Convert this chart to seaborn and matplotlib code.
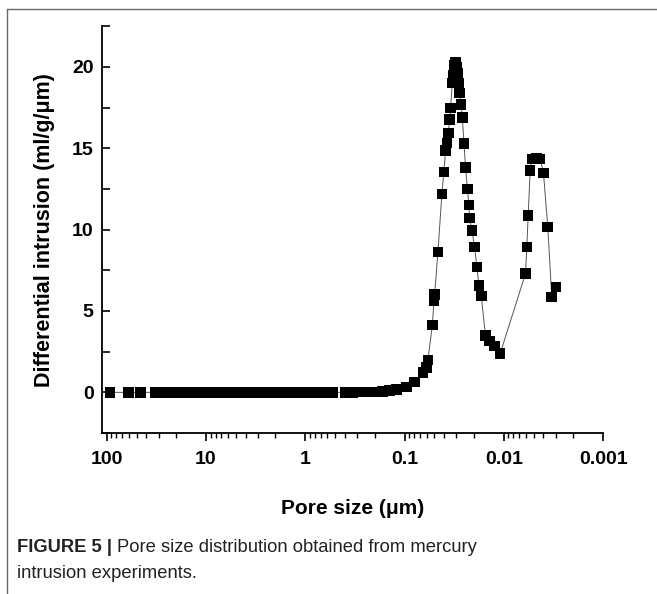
import matplotlib
matplotlib.use("Agg")
import matplotlib.pyplot as plt
from matplotlib.lines import Line2D
from matplotlib.ticker import FixedLocator, LogLocator, NullFormatter
import seaborn as sns
import pandas as pd

# pore size (um), in order of intrusion (large -> small)
pore_size = [92.7, 60.7, 45.5, 32.1, 26.6, 21.9, 17.9, 14.6, 12.0, 10.7,
             8.79, 6.97, 5.66, 4.64, 3.70, 3.05, 2.40, 1.95, 1.52, 1.25,
             0.99, 0.80, 0.64, 0.525, 0.40, 0.33, 0.262, 0.208, 0.167, 0.141,
             0.121, 0.096, 0.0791, 0.0653, 0.0604, 0.0582, 0.0525, 0.0506, 0.0498, 0.0461,
             0.0421, 0.0402, 0.0386, 0.0374, 0.0363, 0.0352, 0.0344, 0.0331, 0.0326, 0.0318,
             0.0308, 0.0301, 0.0294, 0.0286, 0.0279, 0.0269, 0.0262, 0.0252, 0.0243, 0.0233,
             0.0225, 0.0221, 0.0210, 0.0197, 0.0187, 0.0178, 0.0169, 0.0153, 0.0139, 0.0124,
             0.0109, 0.00605, 0.00587, 0.00569, 0.00543, 0.00523, 0.00472, 0.00431, 0.00399, 0.00361,
             0.00329, 0.00297]
# differential intrusion (ml/g/um)
diff_intrusion = [0, 0, 0, 0, 0, 0, 0, 0, 0, 0,
                  0, 0, 0, 0, 0, 0, 0, 0, 0, 0,
                  0, 0, 0, 0, 0, 0, 0.01, 0.02, 0.04, 0.1,
                  0.18, 0.33, 0.63, 1.21, 1.52, 1.98, 4.13, 5.60, 6.01, 8.63,
                  12.19, 13.54, 14.85, 15.32, 15.93, 16.75, 17.47, 19.0, 19.5, 20.1,
                  20.3, 20.0, 19.6, 19.0, 18.4, 17.7, 16.9, 15.3, 13.8, 12.5,
                  11.5, 10.7, 9.96, 8.94, 7.69, 6.56, 5.91, 3.50, 3.15, 2.84,
                  2.37, 7.30, 8.92, 10.86, 13.64, 14.34, 14.40, 14.34, 13.48, 10.17,
                  5.85, 6.46]

x_ticks = [100, 10, 1, 0.1, 0.01, 0.001]
x_labels = ["100", "10", "1", "0.1", "0.01", "0.001"]
y_ticks = [0, 5, 10, 15, 20]

df = pd.DataFrame({"size": pore_size, "dv": diff_intrusion})

sns.set_style("ticks")
plt.rcParams['font.family'] = ['Liberation Sans', 'DejaVu Sans']
plt.rcParams.update({"text.color": "black", "axes.labelcolor": "black",
                     "xtick.color": "black", "ytick.color": "black",
                     "axes.edgecolor": "black"})

fig = plt.figure(figsize=(6.57, 5.94), dpi=100)
ax = fig.add_axes([0.155, 0.271, 0.763, 0.685])

sns.lineplot(data=df, x="size", y="dv", sort=False, color="#555555",
             linewidth=0.7, ax=ax, estimator=None)
sns.scatterplot(data=df, x="size", y="dv", marker="s", s=58, color="black",
                edgecolor="none", ax=ax, zorder=3)

ax.set_xscale("log")
ax.set_xlim(112, 0.001)
ax.set_ylim(-2.5, 22.5)

ax.xaxis.set_major_locator(FixedLocator(x_ticks))
ax.set_xticks(x_ticks)
ax.set_xticklabels(x_labels)
ax.xaxis.set_minor_locator(LogLocator(base=10, subs=range(2, 10), numticks=20))
ax.xaxis.set_minor_formatter(NullFormatter())
ax.set_yticks(y_ticks)
ax.set_yticks([-2.5, 2.5, 7.5, 12.5, 17.5, 22.5], minor=True)

ax.tick_params(axis="x", which="major", direction="out", length=6, width=1.2,
               pad=7, labelsize=14)
ax.tick_params(axis="x", which="minor", direction="out", length=3.5, width=1.0)
ax.tick_params(axis="y", which="both", direction="in", length=6, width=1.2,
               pad=6, labelsize=14)
for lab in ax.get_xticklabels() + ax.get_yticklabels():
    lab.set_fontweight("bold")

for side in ["top", "right"]:
    ax.spines[side].set_visible(False)
for side in ["left", "bottom"]:
    ax.spines[side].set_linewidth(1.3)

ax.set_xlabel("Pore size (\u03bcm)", fontsize=15, fontweight="bold", labelpad=22)
ax.set_ylabel("Differential intrusion (ml/g/\u03bcm)", fontsize=15.5,
              fontweight="bold", labelpad=12)

# page frame and caption
fig.add_artist(Line2D([7 / 657, 1.0], [1 - 9 / 594, 1 - 9 / 594], color="#666666", lw=1.0))
fig.add_artist(Line2D([7 / 657, 7 / 657], [0, 1 - 9 / 594], color="#666666", lw=1.0))

cap_size = 13.2
cap_color = "#222222"
t1 = fig.text(17 / 657, 1 - 548 / 594, "FIGURE 5 |", fontsize=cap_size, fontweight="bold",
              va="center", ha="left", color=cap_color)
fig.canvas.draw()
bb = t1.get_window_extent()
fig.text((bb.x1 + 5) / 657, 1 - 548 / 594, "Pore size distribution obtained from mercury",
         fontsize=cap_size, va="center", ha="left", color=cap_color)
fig.text(17 / 657, 1 - 574 / 594, "intrusion experiments.", fontsize=cap_size,
         va="center", ha="left", color=cap_color)

fig.savefig("out.png", dpi=100)
